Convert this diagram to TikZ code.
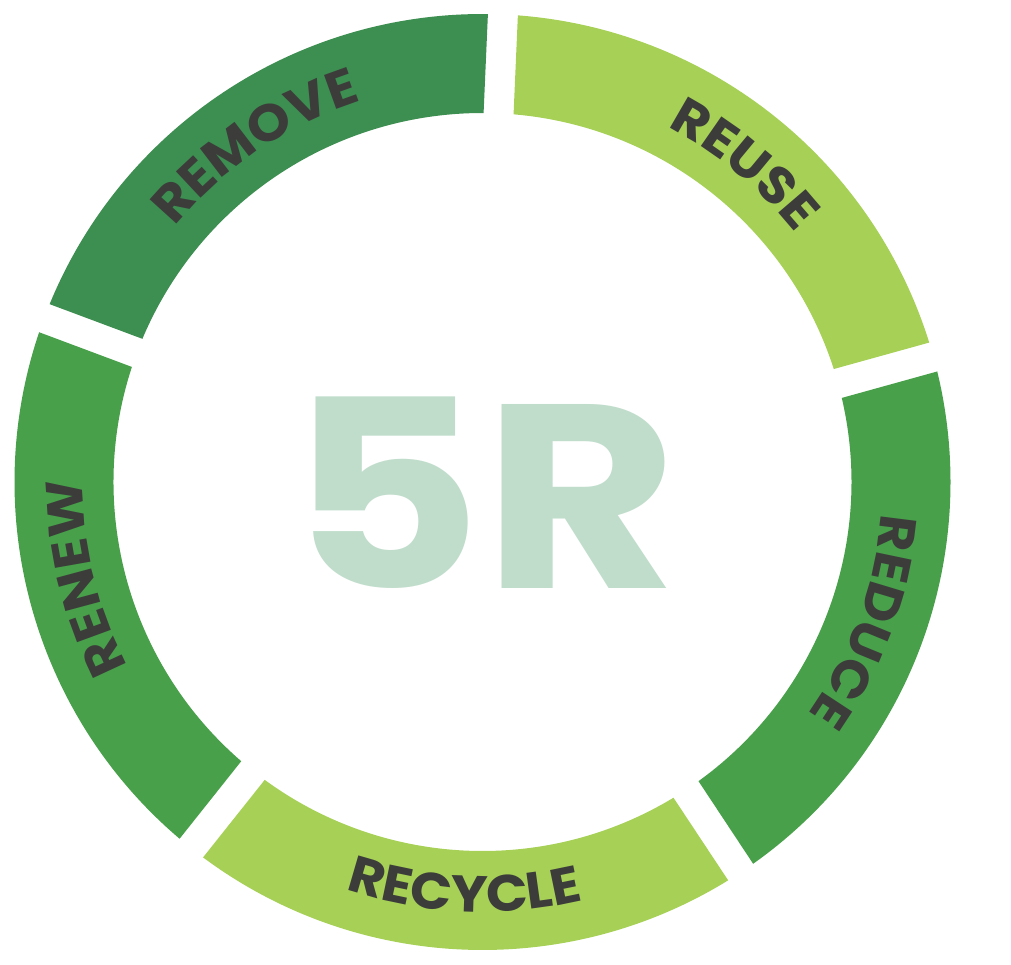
\documentclass[tikz,border=0pt]{standalone}
\usepackage{fontspec}
\setmainfont{Poppins}
\newfontfamily\ringfont[FakeStretch=1.07]{Poppins}
\newfontfamily\titlefont[FakeStretch=1.14]{Poppins}
\usepackage{tikz}
\usetikzlibrary{decorations.text, positioning}
\definecolor{greendark}{RGB}{61,142,81}
\definecolor{greenmid}{RGB}{72,160,74}
\definecolor{greenlight}{RGB}{166,208,86}
\definecolor{mintfive}{RGB}{192,221,203}
\definecolor{inkgray}{RGB}{60,60,59}

\begin{document}
\begin{tikzpicture}[
      ringtext/.style={decorate, decoration={text along path, text align=center,
                  text color=inkgray,
                  text={|\ringfont\bfseries\fontsize{14.6}{16}\selectfont|#1}}},
      bigtitle/.style={font=\titlefont\bfseries\fontsize{74.6}{75}\selectfont,
                  text=mintfive, inner sep=0pt}]
    \useasboundingbox (-4.825,-4.82) rectangle (5.285,4.82);
    \pgfmathsetmacro{\dout}{asin(0.15/4.68)}
    \pgfmathsetmacro{\din}{asin(0.15/3.69)}
    \foreach \a/\col in {15.5/greenlight, 87.5/greendark, 159.5/greenmid,
                         231.5/greenlight, 303.5/greenmid} {
      \pgfmathsetmacro{\oa}{\a+\dout}
      \pgfmathsetmacro{\ob}{\a+72-\dout}
      \pgfmathsetmacro{\ia}{\a+\din}
      \pgfmathsetmacro{\ib}{\a+72-\din}
      \fill[\col] (\oa:4.68) arc[start angle=\oa, end angle=\ob, radius=4.68]
        -- (\ib:3.69) arc[start angle=\ib, end angle=\ia, radius=3.69] -- cycle;
    }
    \foreach \m/\word in {124/REMOVE, 50.5/REUSE, -20/REDUCE, 193.5/RENEW} {
      \pgfmathsetmacro{\sa}{\m+35}
      \pgfmathsetmacro{\sb}{\m-35}
      \path[ringtext=\word] (\sa:4.0) arc[start angle=\sa, end angle=\sb, radius=4.0];
    }
    \path[ringtext=RECYCLE] (232.5:4.3) arc[start angle=232.5, end angle=302.5, radius=4.3];
    \node[bigtitle] (title) at (0.01,-0.105) {5R};
\end{tikzpicture}
\end{document}
